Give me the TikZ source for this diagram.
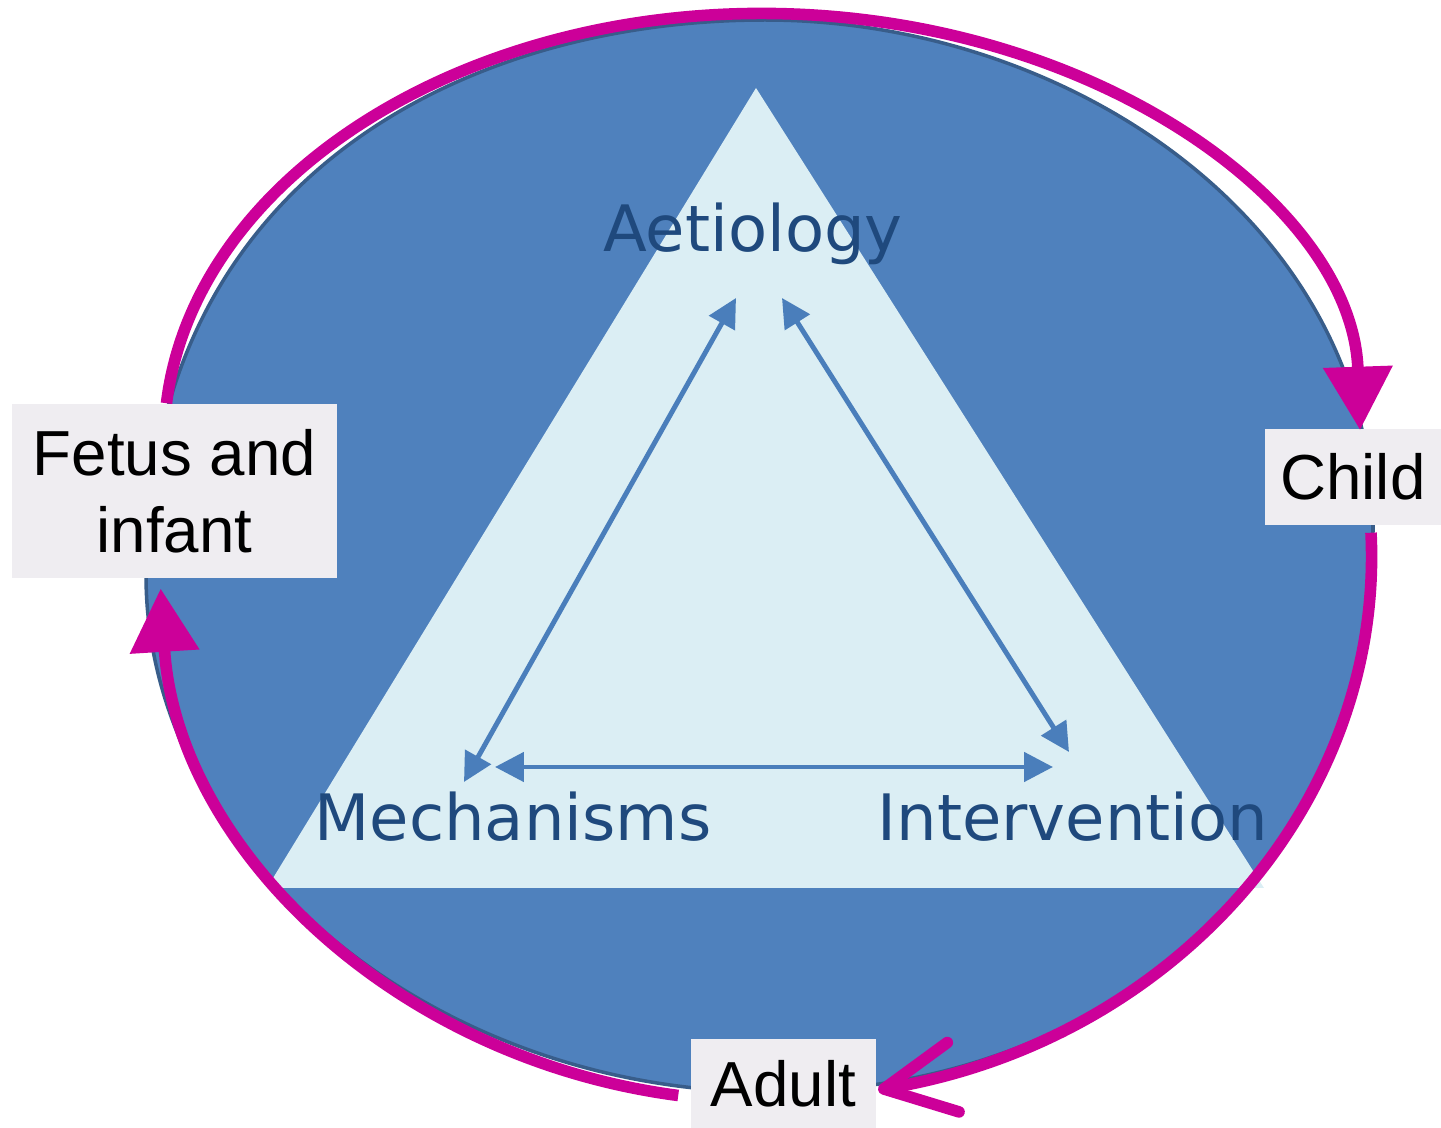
\documentclass[tikz,border=0pt]{standalone}
\usepackage{fontspec}
\setmainfont{Liberation Sans}
\newfontfamily\fieldfont{DejaVu Sans}
\usetikzlibrary{arrows.meta,calc}
\definecolor{discblue}{HTML}{4F81BD}
\definecolor{discedge}{HTML}{385D8A}
\definecolor{trifill}{HTML}{DBEEF4}
\definecolor{fieldblue}{HTML}{1F497D}
\definecolor{linkblue}{HTML}{4A7EBB}
\definecolor{lifepink}{HTML}{CC0099}
\definecolor{stagegray}{HTML}{EFEDF1}
\tikzset{
  stage/.style={fill=stagegray, inner sep=0pt, align=center, font=\fontsize{18.1}{21.8}\selectfont},
  field/.style={text=fieldblue, anchor=base, inner sep=0pt, font=\fieldfont\fontsize{18.2}{21}\selectfont},
  link/.style={linkblue, line width=1.4pt, {Triangle[length=8.2pt,width=8.2pt]}-{Triangle[length=8.2pt,width=8.2pt]}},
  lifeline/.style={lifepink, line width=3.3pt},
  bighead/.style={-{Triangle[length=18pt,width=19pt]}},
}
\begin{document}
\begin{tikzpicture}[x=0.01cm,y=-0.01cm]
    \useasboundingbox (0,0) rectangle (1441,1128);
    % disc
    \filldraw[fill=discblue, draw=discedge, line width=1pt] (146,575) .. controls (146,187) and (455,20) .. (765,20)
        .. controls (1069,20) and (1373,223) .. (1373,528)
        .. controls (1373,855) and (1120,1092) .. (770,1092)
        .. controls (433,1092) and (146,854) .. cycle;
    % triangle
    \fill[trifill] (756,88) -- (1264,888) -- (267,888) -- cycle;
    % stages of life
    \node[stage, minimum width=3.25cm, minimum height=1.74cm] (fetus) at (174.5,491) {Fetus and\\infant};
    \node[stage, minimum width=1.76cm, minimum height=0.96cm] (child) at (1353,477) {Child};
    \node[stage, minimum width=1.85cm, minimum height=0.89cm] (adult) at (783.5,1083.5) {Adult};
    % fields
    \node[field] (aetio) at (753,252) {Aetiology};
    \node[field] (mech) at (513,841) {Mechanisms};
    \node[field] (interv) at (1073,841) {Intervention};
    \coordinate (aetioL) at (736,298);
    \coordinate (aetioR) at (782,298);
    \coordinate (mechU) at (464,782);
    \coordinate (mechR) at (495,767);
    \coordinate (intervU) at (1069,752);
    \coordinate (intervL) at (1053,767);
    \draw[link] (mechU) -- (aetioL);
    \draw[link] (aetioR) -- (intervU);
    \draw[link] (mechR) -- (intervL);
    % life course
    \draw[lifeline, bighead] ($(fetus.north)+(-8,0)$) arc[start angle=185, end angle=358.6, x radius=598, y radius=427];
    \draw[lifeline, -{Straight Barb[length=20pt,width=20pt,round]}] ($(child.south)+(18,7)$) arc[start angle=-2.5, end angle=79.3, x radius=606, y radius=543];
    \draw[lifeline, bighead] ($(adult.west)+(-12,12)$) arc[start angle=98.3, end angle=176.8, x radius=606, y radius=543];
\end{tikzpicture}
\end{document}
